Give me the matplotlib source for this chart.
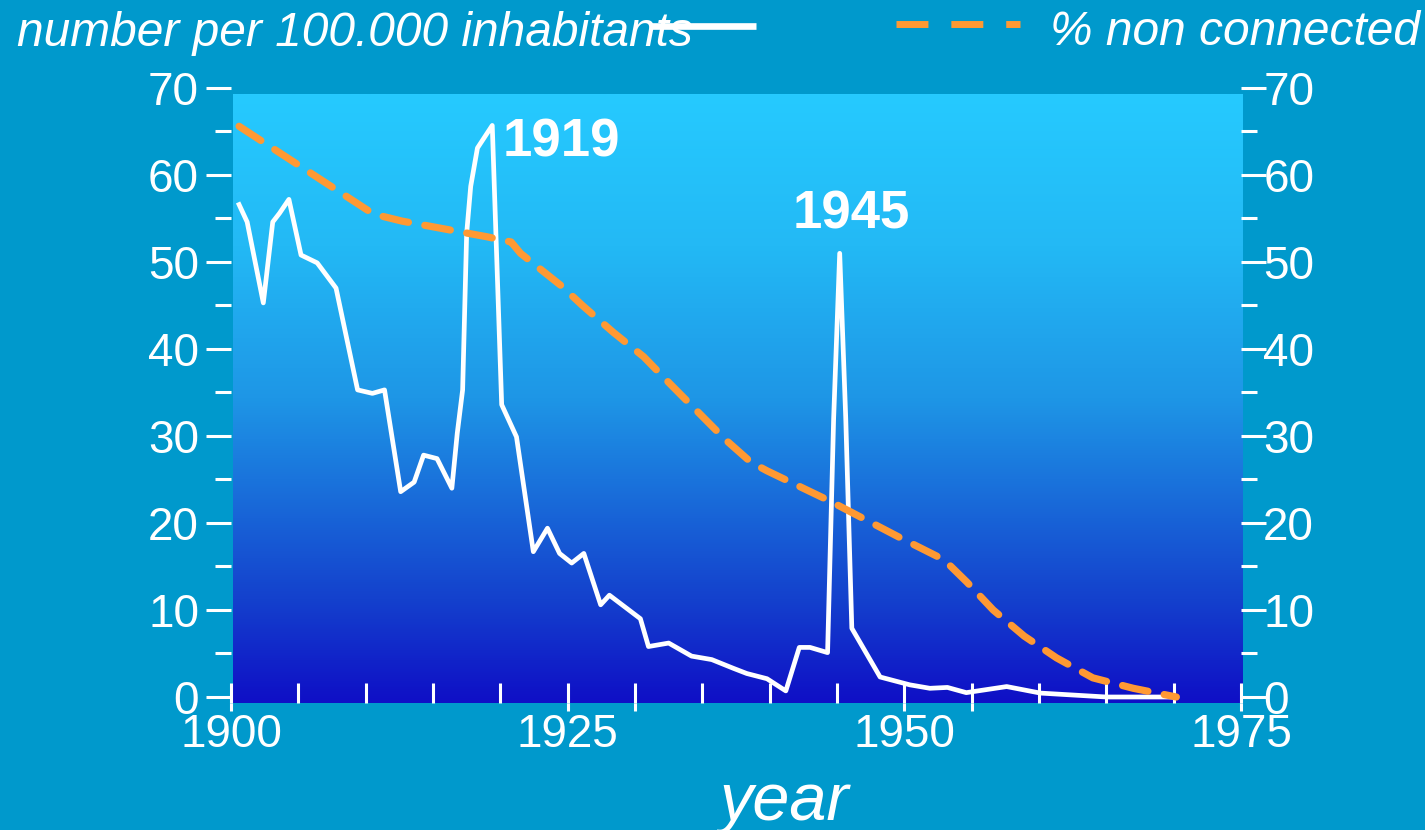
import numpy as np
import matplotlib
matplotlib.use("Agg")
import matplotlib.pyplot as plt
from matplotlib.colors import LinearSegmentedColormap
from matplotlib.lines import Line2D
from matplotlib.ticker import FixedLocator, FixedFormatter

plt.rcParams["font.family"] = ["Liberation Sans", "DejaVu Sans"]

# number per 100.000 inhabitants (left axis)
years_rate = [1900.6, 1901.2, 1902.4, 1903.1, 1903.6, 1904.3, 1905.2, 1906.4, 1907.8, 1909.4,
              1910.5, 1911.4, 1912.6, 1913.6, 1914.3, 1915.3, 1916.4, 1916.8, 1917.2, 1917.5,
              1917.8, 1918.3, 1919.4, 1920.1, 1921.2, 1922.45, 1923.5, 1924.4, 1925.3, 1926.2,
              1927.45, 1928.1, 1930.4, 1931.0, 1932.5, 1934.2, 1935.7, 1937.3, 1938.3, 1939.8,
              1941.2, 1942.2, 1943.0, 1944.3, 1944.75, 1945.2, 1945.65, 1946.1, 1948.2, 1950.4,
              1951.9, 1953.2, 1954.6, 1957.6, 1960.1, 1965.0, 1970.0]
rate = [56.6, 54.6, 45.3, 54.6, 55.6, 57.2, 50.8, 49.9, 47.0, 35.3,
        34.9, 35.3, 23.6, 24.7, 27.8, 27.4, 24.0, 30.3, 35.3, 53.3,
        58.7, 63.1, 65.7, 33.6, 29.9, 16.7, 19.4, 16.5, 15.4, 16.5,
        10.6, 11.7, 9.0, 5.8, 6.2, 4.7, 4.3, 3.3, 2.7, 2.1,
        0.7, 5.7, 5.7, 5.1, 32.0, 51.0, 32.0, 7.9, 2.3, 1.4,
        1.0, 1.1, 0.5, 1.2, 0.45, 0.0, 0.0]

# % non connected (right axis)
years_nc = [1900.6, 1909.9, 1910.6, 1912.7, 1919.0, 1920.8, 1921.5, 1924.5, 1926.1, 1928.4,
            1930.65, 1932.6, 1936.7, 1938.6, 1939.8, 1944.5, 1949.7, 1952.4, 1953.2, 1954.65,
            1956.6, 1958.9, 1961.3, 1964.0, 1965.0, 1967.0, 1970.2]
non_connected = [65.6, 56.2, 55.5, 54.7, 52.9, 52.3, 51.0, 47.3, 45.0, 41.9,
                 39.1, 36.0, 29.6, 27.0, 26.0, 22.5, 18.3, 16.2, 15.4, 13.2,
                 10.0, 7.0, 4.5, 2.2, 1.8, 1.0, 0.0]

peaks = [(1919, 1920.2, 62.1), (1945, 1941.7, 53.9)]

BG = "#0099CC"
ORANGE = "#FF9933"
W, H = 1425, 830


def fx(x):
    return x / W


def fy(y):
    return 1 - y / H


fig = plt.figure(figsize=(14.25, 8.3), dpi=100, facecolor=BG)
ax = fig.add_axes([fx(231), fy(703), fx(1241) - fx(231), fy(88) - fy(703)])
ax.set_facecolor("none")

# gradient plot background
grad = LinearSegmentedColormap.from_list(
    "bg", [(0.0, "#26CAFF"), (0.25, "#23B9F5"), (0.5, "#1E96E6"), (0.83, "#1441CD"), (1.0, "#0F0FC6")])
ax.imshow(np.linspace(0, 1, 256).reshape(-1, 1), cmap=grad, aspect="auto",
          extent=(1900.15, 1975.15, -0.69, 69.2), origin="upper", clip_on=False, zorder=0)

ax.plot(years_rate, rate, color="white", lw=3.4, zorder=3)

ax2 = ax.twinx()
ax2.plot(years_nc, non_connected, color=ORANGE, lw=5.2, linestyle=(0, (3.6, 2.3)),
         dash_capstyle="round", zorder=2)

for a in (ax, ax2):
    a.set_xlim(1900, 1975)
    a.set_ylim(-0.69, 70)
    for s in a.spines.values():
        s.set_visible(False)

# y ticks
ax.yaxis.set_major_locator(FixedLocator(range(0, 71, 10)))
ax.yaxis.set_minor_locator(FixedLocator(range(5, 70, 10)))
ax2.yaxis.set_major_locator(FixedLocator(range(0, 71, 10)))
ax2.yaxis.set_minor_locator(FixedLocator(range(5, 70, 10)))
ax.tick_params(axis="y", which="major", direction="out", length=18, width=2.2, color="white",
               labelcolor="white", labelsize=33, pad=5)
ax.tick_params(axis="y", which="minor", direction="out", length=11.5, width=2.2, color="white")
ax2.tick_params(axis="y", which="major", direction="out", length=18, width=2.2, color="white",
                labelcolor="white", labelsize=33, pad=-2)
ax2.tick_params(axis="y", which="minor", direction="out", length=11.5, width=2.2, color="white")

# x ticks
ax.xaxis.remove_overlapping_locs = False
major_x = [1900, 1925, 1930, 1950, 1955, 1975]
major_lbl = ["1900", "1925", "", "1950", "", "1975"]
ax.xaxis.set_major_locator(FixedLocator(major_x))
ax.xaxis.set_major_formatter(FixedFormatter(major_lbl))
ax.xaxis.set_minor_locator(FixedLocator(range(1900, 1976, 5)))
ax.tick_params(axis="x", which="major", direction="out", length=5.8, width=2.2, color="white",
               labelcolor="white", labelsize=33, pad=1.5)
ax.tick_params(axis="x", which="minor", direction="in", length=14.4, width=2.2, color="white")
ax2.tick_params(axis="x", which="both", bottom=False, labelbottom=False)

for label, x, y in peaks:
    ax.text(x, y, str(label), color="white", fontsize=38, fontweight="bold",
            ha="left", va="baseline", zorder=5)

fig.text(fx(785), fy(820), "year", color="white", fontsize=48, style="italic",
         ha="center", va="baseline")

# legend drawn in figure coordinates
fig.text(fx(17), fy(46), "number per 100.000 inhabitants", color="white", fontsize=34.5,
         style="italic", ha="left", va="baseline")
fig.add_artist(Line2D([fx(650), fx(756)], [fy(26), fy(26)], transform=fig.transFigure,
                      color="white", lw=4.8, solid_capstyle="butt"))
fig.add_artist(Line2D([fx(896), fx(1020)], [fy(24), fy(24)], transform=fig.transFigure,
                      color=ORANGE, lw=5, linestyle=(0, (4.6, 3.3)), dash_capstyle="butt"))
fig.text(fx(1050), fy(45), "% non connected", color="white", fontsize=34.5,
         style="italic", ha="left", va="baseline")

fig.savefig("out.png", dpi=100, facecolor=BG)
